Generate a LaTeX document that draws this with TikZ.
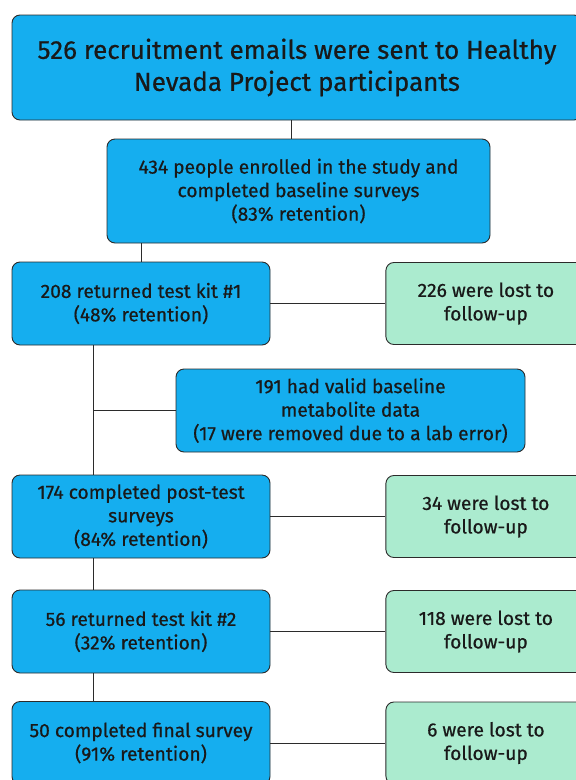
\documentclass[tikz,border=0pt]{standalone}
\usepackage{fontspec}
\setmainfont{Fira Sans}
\newfontfamily\letraflujo{Fira Sans}[FakeBold=0.6]
\usetikzlibrary{positioning}
\definecolor{azulflujo}{HTML}{15AEEF}
\definecolor{verdeflujo}{HTML}{ABEBCF}
\definecolor{grisborde}{HTML}{2B2B2B}
\colorlet{colPaso}{azulflujo}
\colorlet{colPerdida}{verdeflujo}
\colorlet{colLinea}{grisborde}
\tikzset{
  cajaBase/.style={
    draw=colLinea, line width=0.9pt, rounded corners=8pt,
    align=center, text=black!90, inner sep=0pt,
    font=\letraflujo\fontsize{19.2}{23.5}\selectfont
  },
  cajaPaso/.style={cajaBase, fill=colPaso, minimum width=258pt, minimum height=83pt},
  cajaPerdida/.style={cajaBase, fill=colPerdida, minimum width=200pt, minimum height=82pt},
  linea/.style={draw=colLinea, line width=1pt},
}
\begin{document}
\begin{tikzpicture}[x=1pt, y=-1pt]
    \useasboundingbox (0,0) rectangle (576,780);
    \node[cajaBase, fill=colPaso, minimum width=570pt, minimum height=105pt,
          font=\letraflujo\fontsize{26}{32}\selectfont] (emails) at (297,67.5)
          {526 recruitment emails were sent to Healthy\\Nevada Project participants};
    \node[cajaPaso, minimum width=383pt, minimum height=104pt] (enrolados) at (298.5,191)
          {434 people enrolled in the study and\\completed baseline surveys\\(83\% retention)};
    \node[cajaPaso] (kit1) at (141,303.5) {208 returned test kit \#1\\(48\% retention)};
    \node[cajaPerdida, right=115pt of kit1] (perdidos1) {226 were lost to\\follow-up};
    \node[cajaPaso, minimum width=349pt] (metabolitos) at (350.5,410.5)
          {191 had valid baseline\\metabolite data\\(17 were removed due to a lab error)};
    \node[cajaPaso] (postest) at (141,516.5) {174 completed post-test\\surveys\\(84\% retention)};
    \node[cajaPerdida, right=115pt of postest] (perdidos2) {34 were lost to\\follow-up};
    \node[cajaPaso] (kit2) at (141,631.5) {56 returned test kit \#2\\(32\% retention)};
    \node[cajaPerdida, right=115pt of kit2] (perdidos3) {118 were lost to\\follow-up};
    \node[cajaPaso] (final) at (141,743) {50 completed final survey\\(91\% retention)};
    \node[cajaPerdida, right=115pt of final] (perdidos4) {6 were lost to\\follow-up};
    \coordinate (eje) at (93,0);
    \draw[linea] ([xshift=-7pt]enrolados.north) -- ([xshift=-7pt]enrolados.north |- emails.south);
    \draw[linea] (enrolados.south -| kit1.north) -- (kit1.north);
    \draw[linea] (kit1.south -| eje) -- (postest.north -| eje);
    \draw[linea] (metabolitos.west) -- (metabolitos.west -| eje);
    \draw[linea] (postest.south -| eje) -- (kit2.north -| eje);
    \draw[linea] (kit2.south -| eje) -- (final.north -| eje);
    \foreach \paso/\perdida in {kit1/perdidos1, postest/perdidos2, kit2/perdidos3, final/perdidos4}
      \draw[linea] (\paso.east) -- (\perdida.west);
\end{tikzpicture}
\end{document}
